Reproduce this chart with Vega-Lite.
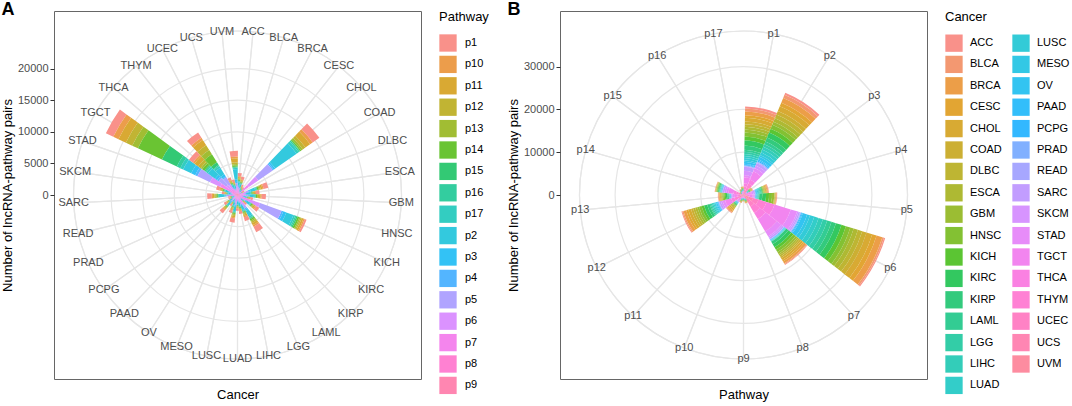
{
"$schema": "https://vega.github.io/schema/vega-lite/v6.json",
"background": "white",
"padding": {"left": 0, "right": 0, "top": 0, "bottom": 0},
"spacing": 16,
"resolve": {"scale": {"color": "independent", "theta": "independent", "radius": "independent", "x": "independent", "y": "independent"}, "legend": {"color": "independent"}},
"config": {
  "font": "Liberation Sans",
  "view": {"stroke": "#666666", "strokeWidth": 1},
  "axis": {"labelFont": "Liberation Sans", "titleFont": "Liberation Sans", "labelFontSize": 11, "labelColor": "#4D4D4D", "titleFontSize": 13, "titleFontWeight": "normal", "titleColor": "#000000", "tickColor": "#333333", "tickSize": 4, "labelPadding": 2, "grid": false},
  "legend": {"titleFont": "Liberation Sans", "labelFont": "Liberation Sans", "titleFontSize": 13, "titleFontWeight": "normal", "titleColor": "#000000", "labelFontSize": 11, "labelColor": "#000000", "padding": 0},
  "title": {"font": "Liberation Sans", "fontSize": 18, "fontWeight": "bold", "color": "#000000", "anchor": "start", "frame": "bounds", "offset": -8}
},
"datasets": {
  "dummy": [{"v": 0}],
  "gridA": [{"r": 5000}, {"r": 10000}, {"r": 15000}, {"r": 20000}],
  "gridB": [{"r": 10000}, {"r": 20000}, {"r": 30000}],
  "A": [
    {"cancer":"ACC","p1":525,"p10":140,"p11":175,"p12":140,"p13":105,"p14":140,"p15":70,"p16":70,"p17":105,"p2":525,"p3":140,"p4":105,"p5":280,"p6":210,"p7":420,"p8":175,"p9":175},
    {"cancer":"BLCA","p1":450,"p10":120,"p11":150,"p12":120,"p13":90,"p14":120,"p15":60,"p16":60,"p17":90,"p2":450,"p3":120,"p4":90,"p5":240,"p6":180,"p7":360,"p8":150,"p9":150},
    {"cancer":"BRCA","p1":270,"p10":72,"p11":90,"p12":72,"p13":54,"p14":72,"p15":36,"p16":36,"p17":54,"p2":270,"p3":72,"p4":54,"p5":144,"p6":108,"p7":216,"p8":90,"p9":90},
    {"cancer":"CESC","p1":225,"p10":60,"p11":75,"p12":60,"p13":45,"p14":60,"p15":30,"p16":30,"p17":45,"p2":225,"p3":60,"p4":45,"p5":120,"p6":90,"p7":180,"p8":75,"p9":75},
    {"cancer":"CHOL","p1":1300,"p10":500,"p11":900,"p12":500,"p13":300,"p14":200,"p15":100,"p16":200,"p17":400,"p2":4100,"p3":300,"p4":200,"p5":2800,"p6":1800,"p7":1600,"p8":400,"p9":200},
    {"cancer":"COAD","p1":180,"p10":48,"p11":60,"p12":48,"p13":36,"p14":48,"p15":24,"p16":24,"p17":36,"p2":180,"p3":48,"p4":36,"p5":96,"p6":72,"p7":144,"p8":60,"p9":60},
    {"cancer":"DLBC","p1":750,"p10":200,"p11":250,"p12":200,"p13":150,"p14":200,"p15":100,"p16":100,"p17":150,"p2":750,"p3":200,"p4":150,"p5":400,"p6":300,"p7":600,"p8":250,"p9":250},
    {"cancer":"ESCA","p1":560,"p10":150,"p11":160,"p12":130,"p13":110,"p14":150,"p15":60,"p16":70,"p17":100,"p2":500,"p3":150,"p4":100,"p5":270,"p6":220,"p7":420,"p8":170,"p9":180},
    {"cancer":"GBM","p1":675,"p10":180,"p11":225,"p12":180,"p13":135,"p14":180,"p15":90,"p16":90,"p17":135,"p2":675,"p3":180,"p4":135,"p5":360,"p6":270,"p7":540,"p8":225,"p9":225},
    {"cancer":"HNSC","p1":375,"p10":100,"p11":125,"p12":100,"p13":75,"p14":100,"p15":50,"p16":50,"p17":75,"p2":375,"p3":100,"p4":75,"p5":200,"p6":150,"p7":300,"p8":125,"p9":125},
    {"cancer":"KICH","p1":300,"p10":200,"p11":300,"p12":200,"p13":200,"p14":300,"p15":200,"p16":200,"p17":300,"p2":1200,"p3":500,"p4":300,"p5":3600,"p6":1800,"p7":1400,"p8":400,"p9":200},
    {"cancer":"KIRC","p1":600,"p10":160,"p11":200,"p12":160,"p13":120,"p14":160,"p15":80,"p16":80,"p17":120,"p2":600,"p3":160,"p4":120,"p5":320,"p6":240,"p7":480,"p8":200,"p9":200},
    {"cancer":"KIRP","p1":300,"p10":80,"p11":100,"p12":80,"p13":60,"p14":80,"p15":40,"p16":40,"p17":60,"p2":300,"p3":80,"p4":60,"p5":160,"p6":120,"p7":240,"p8":100,"p9":100},
    {"cancer":"LAML","p1":990,"p10":264,"p11":330,"p12":264,"p13":198,"p14":264,"p15":132,"p16":132,"p17":198,"p2":990,"p3":264,"p4":198,"p5":528,"p6":396,"p7":792,"p8":330,"p9":330},
    {"cancer":"LGG","p1":645,"p10":172,"p11":215,"p12":172,"p13":129,"p14":172,"p15":86,"p16":86,"p17":129,"p2":645,"p3":172,"p4":129,"p5":344,"p6":258,"p7":516,"p8":215,"p9":215},
    {"cancer":"LIHC","p1":420,"p10":130,"p11":140,"p12":110,"p13":100,"p14":130,"p15":70,"p16":50,"p17":90,"p2":470,"p3":110,"p4":100,"p5":230,"p6":190,"p7":370,"p8":140,"p9":150},
    {"cancer":"LUAD","p1":375,"p10":100,"p11":125,"p12":100,"p13":75,"p14":100,"p15":50,"p16":50,"p17":75,"p2":375,"p3":100,"p4":75,"p5":200,"p6":150,"p7":300,"p8":125,"p9":125},
    {"cancer":"LUSC","p1":660,"p10":176,"p11":220,"p12":176,"p13":132,"p14":176,"p15":88,"p16":88,"p17":132,"p2":660,"p3":176,"p4":132,"p5":352,"p6":264,"p7":528,"p8":220,"p9":220},
    {"cancer":"MESO","p1":450,"p10":120,"p11":150,"p12":120,"p13":90,"p14":120,"p15":60,"p16":60,"p17":90,"p2":450,"p3":120,"p4":90,"p5":240,"p6":180,"p7":360,"p8":150,"p9":150},
    {"cancer":"OV","p1":300,"p10":80,"p11":100,"p12":80,"p13":60,"p14":80,"p15":40,"p16":40,"p17":60,"p2":300,"p3":80,"p4":60,"p5":160,"p6":120,"p7":240,"p8":100,"p9":100},
    {"cancer":"PAAD","p1":555,"p10":148,"p11":185,"p12":148,"p13":111,"p14":148,"p15":74,"p16":74,"p17":111,"p2":555,"p3":148,"p4":111,"p5":296,"p6":222,"p7":444,"p8":185,"p9":185},
    {"cancer":"PCPG","p1":375,"p10":100,"p11":125,"p12":100,"p13":75,"p14":100,"p15":50,"p16":50,"p17":75,"p2":375,"p3":100,"p4":75,"p5":200,"p6":150,"p7":300,"p8":125,"p9":125},
    {"cancer":"PRAD","p1":225,"p10":60,"p11":75,"p12":60,"p13":45,"p14":60,"p15":30,"p16":30,"p17":45,"p2":225,"p3":60,"p4":45,"p5":120,"p6":90,"p7":180,"p8":75,"p9":75},
    {"cancer":"READ","p1":225,"p10":60,"p11":75,"p12":60,"p13":45,"p14":60,"p15":30,"p16":30,"p17":45,"p2":225,"p3":60,"p4":45,"p5":120,"p6":90,"p7":180,"p8":75,"p9":75},
    {"cancer":"SARC","p1":720,"p10":192,"p11":240,"p12":192,"p13":144,"p14":192,"p15":96,"p16":96,"p17":144,"p2":720,"p3":192,"p4":144,"p5":384,"p6":288,"p7":576,"p8":240,"p9":240},
    {"cancer":"SKCM","p1":375,"p10":100,"p11":125,"p12":100,"p13":75,"p14":100,"p15":50,"p16":50,"p17":75,"p2":375,"p3":100,"p4":75,"p5":200,"p6":150,"p7":300,"p8":125,"p9":125},
    {"cancer":"STAD","p1":525,"p10":140,"p11":175,"p12":140,"p13":105,"p14":140,"p15":70,"p16":70,"p17":105,"p2":525,"p3":140,"p4":105,"p5":280,"p6":210,"p7":420,"p8":175,"p9":175},
    {"cancer":"TGCT","p1":1300,"p10":900,"p11":1300,"p12":1100,"p13":1000,"p14":4200,"p15":2600,"p16":600,"p17":500,"p2":1400,"p3":700,"p4":400,"p5":2200,"p6":1800,"p7":2000,"p8":600,"p9":400},
    {"cancer":"THCA","p1":800,"p10":300,"p11":700,"p12":500,"p13":300,"p14":400,"p15":200,"p16":200,"p17":300,"p2":1400,"p3":400,"p4":300,"p5":1500,"p6":1000,"p7":800,"p8":200,"p9":200},
    {"cancer":"THYM","p1":1000,"p10":400,"p11":1000,"p12":900,"p13":800,"p14":1500,"p15":500,"p16":200,"p17":300,"p2":1200,"p3":400,"p4":200,"p5":1300,"p6":900,"p7":700,"p8":200,"p9":200},
    {"cancer":"UCEC","p1":450,"p10":120,"p11":150,"p12":120,"p13":90,"p14":120,"p15":60,"p16":60,"p17":90,"p2":450,"p3":120,"p4":90,"p5":240,"p6":180,"p7":360,"p8":150,"p9":150},
    {"cancer":"UCS","p1":375,"p10":100,"p11":125,"p12":100,"p13":75,"p14":100,"p15":50,"p16":50,"p17":75,"p2":375,"p3":100,"p4":75,"p5":200,"p6":150,"p7":300,"p8":125,"p9":125},
    {"cancer":"UVM","p1":900,"p10":300,"p11":600,"p12":300,"p13":200,"p14":200,"p15":100,"p16":100,"p17":200,"p2":1600,"p3":400,"p4":200,"p5":500,"p6":400,"p7":600,"p8":200,"p9":200}
  ],
  "B": [
    {"pw":"p1","ACC":480,"BLCA":720,"BRCA":840,"CESC":630,"CHOL":840,"COAD":630,"DLBC":630,"ESCA":630,"GBM":705,"HNSC":940,"KICH":940,"KIRC":1175,"KIRP":940,"LAML":495,"LGG":495,"LIHC":495,"LUAD":495,"LUSC":495,"MESO":330,"OV":495,"PAAD":210,"PCPG":210,"PRAD":140,"READ":140,"SARC":950,"SKCM":950,"STAD":564,"TGCT":1410,"THCA":705,"THYM":705,"UCEC":470,"UCS":376,"UVM":470},
    {"pw":"p2","ACC":520,"BLCA":780,"BRCA":1200,"CESC":900,"CHOL":1200,"COAD":900,"DLBC":900,"ESCA":900,"GBM":750,"HNSC":1000,"KICH":1000,"KIRC":1250,"KIRP":1000,"LAML":675,"LGG":675,"LIHC":675,"LUAD":675,"LUSC":675,"MESO":450,"OV":675,"PAAD":270,"PCPG":270,"PRAD":180,"READ":180,"SARC":650,"SKCM":650,"STAD":816,"TGCT":2040,"THCA":1020,"THYM":1020,"UCEC":680,"UCS":544,"UVM":680},
    {"pw":"p3","ACC":60,"BLCA":90,"BRCA":90,"CESC":68,"CHOL":90,"COAD":68,"DLBC":68,"ESCA":68,"GBM":60,"HNSC":80,"KICH":80,"KIRC":100,"KIRP":80,"LAML":68,"LGG":68,"LIHC":68,"LUAD":68,"LUSC":68,"MESO":45,"OV":68,"PAAD":30,"PCPG":30,"PRAD":20,"READ":20,"SARC":75,"SKCM":75,"STAD":96,"TGCT":240,"THCA":120,"THYM":120,"UCEC":80,"UCS":64,"UVM":80},
    {"pw":"p4","ACC":120,"BLCA":180,"BRCA":180,"CESC":135,"CHOL":180,"COAD":135,"DLBC":135,"ESCA":135,"GBM":90,"HNSC":120,"KICH":120,"KIRC":150,"KIRP":120,"LAML":180,"LGG":180,"LIHC":180,"LUAD":180,"LUSC":180,"MESO":120,"OV":180,"PAAD":90,"PCPG":90,"PRAD":60,"READ":60,"SARC":350,"SKCM":350,"STAD":240,"TGCT":600,"THCA":300,"THYM":300,"UCEC":200,"UCS":160,"UVM":200},
    {"pw":"p5","ACC":80,"BLCA":120,"BRCA":100,"CESC":75,"CHOL":100,"COAD":75,"DLBC":75,"ESCA":75,"GBM":525,"HNSC":700,"KICH":700,"KIRC":875,"KIRP":700,"LAML":120,"LGG":120,"LIHC":120,"LUAD":120,"LUSC":120,"MESO":80,"OV":120,"PAAD":60,"PCPG":60,"PRAD":40,"READ":40,"SARC":150,"SKCM":150,"STAD":288,"TGCT":720,"THCA":360,"THYM":360,"UCEC":240,"UCS":192,"UVM":240},
    {"pw":"p6","ACC":280,"BLCA":420,"BRCA":1400,"CESC":1050,"CHOL":1400,"COAD":1050,"DLBC":1050,"ESCA":1050,"GBM":810,"HNSC":1080,"KICH":1080,"KIRC":1350,"KIRP":1080,"LAML":1050,"LGG":1050,"LIHC":1050,"LUAD":1050,"LUSC":1050,"MESO":700,"OV":1050,"PAAD":210,"PCPG":210,"PRAD":140,"READ":140,"SARC":350,"SKCM":350,"STAD":1572,"TGCT":3930,"THCA":1965,"THYM":1965,"UCEC":1310,"UCS":1048,"UVM":1310},
    {"pw":"p7","ACC":160,"BLCA":240,"BRCA":520,"CESC":390,"CHOL":520,"COAD":390,"DLBC":390,"ESCA":390,"GBM":495,"HNSC":660,"KICH":660,"KIRC":825,"KIRP":660,"LAML":60,"LGG":60,"LIHC":60,"LUAD":60,"LUSC":60,"MESO":40,"OV":60,"PAAD":90,"PCPG":90,"PRAD":60,"READ":60,"SARC":350,"SKCM":350,"STAD":1356,"TGCT":3390,"THCA":1695,"THYM":1695,"UCEC":1130,"UCS":904,"UVM":1130},
    {"pw":"p8","ACC":40,"BLCA":60,"BRCA":60,"CESC":45,"CHOL":60,"COAD":45,"DLBC":45,"ESCA":45,"GBM":45,"HNSC":60,"KICH":60,"KIRC":75,"KIRP":60,"LAML":45,"LGG":45,"LIHC":45,"LUAD":45,"LUSC":45,"MESO":30,"OV":45,"PAAD":30,"PCPG":30,"PRAD":20,"READ":20,"SARC":50,"SKCM":50,"STAD":96,"TGCT":240,"THCA":120,"THYM":120,"UCEC":80,"UCS":64,"UVM":80},
    {"pw":"p9","ACC":40,"BLCA":60,"BRCA":40,"CESC":30,"CHOL":40,"COAD":30,"DLBC":30,"ESCA":30,"GBM":30,"HNSC":40,"KICH":40,"KIRC":50,"KIRP":40,"LAML":30,"LGG":30,"LIHC":30,"LUAD":30,"LUSC":30,"MESO":20,"OV":30,"PAAD":30,"PCPG":30,"PRAD":20,"READ":20,"SARC":50,"SKCM":50,"STAD":72,"TGCT":180,"THCA":90,"THYM":90,"UCEC":60,"UCS":48,"UVM":60},
    {"pw":"p10","ACC":40,"BLCA":60,"BRCA":60,"CESC":45,"CHOL":60,"COAD":45,"DLBC":45,"ESCA":45,"GBM":45,"HNSC":60,"KICH":60,"KIRC":75,"KIRP":60,"LAML":45,"LGG":45,"LIHC":45,"LUAD":45,"LUSC":45,"MESO":30,"OV":45,"PAAD":30,"PCPG":30,"PRAD":20,"READ":20,"SARC":50,"SKCM":50,"STAD":84,"TGCT":210,"THCA":105,"THYM":105,"UCEC":70,"UCS":56,"UVM":70},
    {"pw":"p11","ACC":120,"BLCA":180,"BRCA":320,"CESC":240,"CHOL":320,"COAD":240,"DLBC":240,"ESCA":240,"GBM":90,"HNSC":120,"KICH":120,"KIRC":150,"KIRP":120,"LAML":60,"LGG":60,"LIHC":60,"LUAD":60,"LUSC":60,"MESO":40,"OV":60,"PAAD":60,"PCPG":60,"PRAD":40,"READ":40,"SARC":150,"SKCM":150,"STAD":204,"TGCT":510,"THCA":255,"THYM":255,"UCEC":170,"UCS":136,"UVM":170},
    {"pw":"p12","ACC":200,"BLCA":300,"BRCA":660,"CESC":495,"CHOL":660,"COAD":495,"DLBC":495,"ESCA":495,"GBM":450,"HNSC":600,"KICH":600,"KIRC":750,"KIRP":600,"LAML":270,"LGG":270,"LIHC":270,"LUAD":270,"LUSC":270,"MESO":180,"OV":270,"PAAD":150,"PCPG":150,"PRAD":100,"READ":100,"SARC":400,"SKCM":400,"STAD":612,"TGCT":1530,"THCA":765,"THYM":765,"UCEC":510,"UCS":408,"UVM":510},
    {"pw":"p13","ACC":80,"BLCA":120,"BRCA":180,"CESC":135,"CHOL":180,"COAD":135,"DLBC":135,"ESCA":135,"GBM":210,"HNSC":280,"KICH":280,"KIRC":350,"KIRP":280,"LAML":75,"LGG":75,"LIHC":75,"LUAD":75,"LUSC":75,"MESO":50,"OV":75,"PAAD":60,"PCPG":60,"PRAD":40,"READ":40,"SARC":150,"SKCM":150,"STAD":300,"TGCT":750,"THCA":375,"THYM":375,"UCEC":250,"UCS":200,"UVM":250},
    {"pw":"p14","ACC":40,"BLCA":60,"BRCA":60,"CESC":45,"CHOL":60,"COAD":45,"DLBC":45,"ESCA":45,"GBM":105,"HNSC":140,"KICH":140,"KIRC":175,"KIRP":140,"LAML":75,"LGG":75,"LIHC":75,"LUAD":75,"LUSC":75,"MESO":50,"OV":75,"PAAD":90,"PCPG":90,"PRAD":60,"READ":60,"SARC":400,"SKCM":400,"STAD":492,"TGCT":1230,"THCA":615,"THYM":615,"UCEC":410,"UCS":328,"UVM":410},
    {"pw":"p15","ACC":20,"BLCA":30,"BRCA":30,"CESC":23,"CHOL":30,"COAD":23,"DLBC":23,"ESCA":23,"GBM":23,"HNSC":30,"KICH":30,"KIRC":38,"KIRP":30,"LAML":23,"LGG":23,"LIHC":23,"LUAD":23,"LUSC":23,"MESO":15,"OV":23,"PAAD":15,"PCPG":15,"PRAD":10,"READ":10,"SARC":25,"SKCM":25,"STAD":48,"TGCT":120,"THCA":60,"THYM":60,"UCEC":40,"UCS":32,"UVM":40},
    {"pw":"p16","ACC":40,"BLCA":60,"BRCA":40,"CESC":30,"CHOL":40,"COAD":30,"DLBC":30,"ESCA":30,"GBM":30,"HNSC":40,"KICH":40,"KIRC":50,"KIRP":40,"LAML":30,"LGG":30,"LIHC":30,"LUAD":30,"LUSC":30,"MESO":20,"OV":30,"PAAD":30,"PCPG":30,"PRAD":20,"READ":20,"SARC":50,"SKCM":50,"STAD":72,"TGCT":180,"THCA":90,"THYM":90,"UCEC":60,"UCS":48,"UVM":60},
    {"pw":"p17","ACC":40,"BLCA":60,"BRCA":60,"CESC":45,"CHOL":60,"COAD":45,"DLBC":45,"ESCA":45,"GBM":45,"HNSC":60,"KICH":60,"KIRC":75,"KIRP":60,"LAML":45,"LGG":45,"LIHC":45,"LUAD":45,"LUSC":45,"MESO":30,"OV":45,"PAAD":30,"PCPG":30,"PRAD":20,"READ":20,"SARC":50,"SKCM":50,"STAD":96,"TGCT":240,"THCA":120,"THYM":120,"UCEC":80,"UCS":64,"UVM":80}
  ]
},
"hconcat": [
  {
    "width": 367, "height": 368,
    "title": {"text": "A"},
    "layer": [
      {"data": {"name": "gridA"},
       "mark": {"type": "arc", "filled": false, "stroke": "#E6E6E6", "strokeWidth": 1.2, "theta": 0, "theta2": 6.2832},
       "encoding": {"radius": {"field": "r", "type": "quantitative", "stack": null, "scale": {"type": "linear", "domain": [0, 20000], "range": [0, 126.4], "nice": false, "zero": true}}}},
      {"data": {"name": "dummy"},
       "mark": {"type": "arc", "filled": false, "stroke": "#E6E6E6", "strokeWidth": 1.2, "theta": 0, "theta2": 6.2832, "radius": 164},
       "encoding": {}},
      {"data": {"name": "A"},
       "mark": {"type": "arc", "filled": false, "stroke": "#E6E6E6", "strokeWidth": 1.2, "radius": 164, "thetaOffset": 0.0952, "theta2Offset": -0.0952},
       "encoding": {"theta": {"field": "cancer", "type": "nominal", "scale": {"type": "band", "paddingInner": 0, "paddingOuter": 0}}}},
      {"data": {"name": "A"},
       "transform": [
         {"fold": ["p1","p10","p11","p12","p13","p14","p15","p16","p17","p2","p3","p4","p5","p6","p7","p8","p9"], "as": ["pw", "n"]},
         {"stack": "n", "groupby": ["cancer"], "sort": [{"field": "pw", "order": "descending"}], "as": ["r0", "r1"]}
       ],
       "mark": {"type": "arc", "thetaOffset": 0.00952, "theta2Offset": -0.00952},
       "encoding": {
         "theta": {"field": "cancer", "type": "nominal", "scale": {"type": "band", "paddingInner": 0, "paddingOuter": 0}},
         "radius": {"field": "r1", "type": "quantitative", "stack": null, "scale": {"type": "linear", "domain": [0, 20000], "range": [0, 126.4], "nice": false, "zero": true}},
         "radius2": {"field": "r0"},
         "color": {"field": "pw", "type": "nominal", "title": "Pathway",
           "scale": {"domain": ["p1","p10","p11","p12","p13","p14","p15","p16","p17","p2","p3","p4","p5","p6","p7","p8","p9"],
                     "range": ["#F9918A","#EC9D4B","#D9A933","#C1B433","#A1BD33","#6AC433","#33C974","#33CD9F","#33CDC1","#33C9DE","#33C2F5","#53B5FF","#B0A4FF","#DB92FF","#F485ED","#FF81D2","#FF86B1"]},
           "legend": {"symbolType": "square", "symbolSize": 300, "symbolStrokeWidth": 0, "symbolOpacity": 1, "rowPadding": 3.4, "labelOffset": 8, "titlePadding": 10, "offset": 18}}
       }},
      {"data": {"name": "A"},
       "mark": {"type": "text", "radius": 164, "fontSize": 11, "color": "#4D4D4D", "align": "center", "baseline": "middle"},
       "encoding": {"theta": {"field": "cancer", "type": "nominal", "scale": {"type": "band", "paddingInner": 0, "paddingOuter": 0}}, "text": {"field": "cancer"}}},
      {"data": {"name": "dummy"},
       "mark": {"type": "point", "opacity": 0},
       "encoding": {
         "x": {"field": "v", "type": "quantitative", "scale": {"domain": [-1, 1]}, "axis": {"title": "Cancer", "labels": false, "ticks": false, "domain": false, "grid": false, "titlePadding": 9}},
         "y": {"field": "v", "type": "quantitative", "scale": {"domain": [-29114, 29114], "nice": false, "zero": false}, "axis": {"title": "Number of lncRNA-pathway pairs", "values": [0, 5000, 10000, 15000, 20000], "format": "d", "domain": false, "grid": false, "titlePadding": 3}}
       }}
    ]
  },
  {
    "width": 367, "height": 368,
    "title": {"text": "B"},
    "layer": [
      {"data": {"name": "gridB"},
       "mark": {"type": "arc", "filled": false, "stroke": "#E6E6E6", "strokeWidth": 1.2, "theta": 0, "theta2": 6.2832},
       "encoding": {"radius": {"field": "r", "type": "quantitative", "stack": null, "scale": {"type": "linear", "domain": [0, 30000], "range": [0, 128.4], "nice": false, "zero": true}}}},
      {"data": {"name": "dummy"},
       "mark": {"type": "arc", "filled": false, "stroke": "#E6E6E6", "strokeWidth": 1.2, "theta": 0, "theta2": 6.2832, "radius": 164},
       "encoding": {}},
      {"data": {"name": "B"},
       "mark": {"type": "arc", "filled": false, "stroke": "#E6E6E6", "strokeWidth": 1.2, "radius": 164, "thetaOffset": 0.1848, "theta2Offset": -0.1848},
       "encoding": {"theta": {"field": "pw", "type": "nominal", "sort": ["p1","p2","p3","p4","p5","p6","p7","p8","p9","p10","p11","p12","p13","p14","p15","p16","p17"], "scale": {"type": "band", "paddingInner": 0, "paddingOuter": 0}}}},
      {"data": {"name": "B"},
       "transform": [
         {"fold": ["ACC","BLCA","BRCA","CESC","CHOL","COAD","DLBC","ESCA","GBM","HNSC","KICH","KIRC","KIRP","LAML","LGG","LIHC","LUAD","LUSC","MESO","OV","PAAD","PCPG","PRAD","READ","SARC","SKCM","STAD","TGCT","THCA","THYM","UCEC","UCS","UVM"], "as": ["cancer", "n"]},
         {"stack": "n", "groupby": ["pw"], "sort": [{"field": "cancer", "order": "descending"}], "as": ["r0", "r1"]}
       ],
       "mark": {"type": "arc", "thetaOffset": 0.01848, "theta2Offset": -0.01848},
       "encoding": {
         "theta": {"field": "pw", "type": "nominal", "sort": ["p1","p2","p3","p4","p5","p6","p7","p8","p9","p10","p11","p12","p13","p14","p15","p16","p17"], "scale": {"type": "band", "paddingInner": 0, "paddingOuter": 0}},
         "radius": {"field": "r1", "type": "quantitative", "stack": null, "scale": {"type": "linear", "domain": [0, 30000], "range": [0, 128.4], "nice": false, "zero": true}},
         "radius2": {"field": "r0"},
         "color": {"field": "cancer", "type": "nominal", "title": "Cancer",
           "scale": {"domain": ["ACC","BLCA","BRCA","CESC","CHOL","COAD","DLBC","ESCA","GBM","HNSC","KICH","KIRC","KIRP","LAML","LGG","LIHC","LUAD","LUSC","MESO","OV","PAAD","PCPG","PRAD","READ","SARC","SKCM","STAD","TGCT","THCA","THYM","UCEC","UCS","UVM"],
                     "range": ["#F9918A","#F39871","#EC9E48","#E2A533","#D8AA33","#CCAF33","#BEB533","#AEB933","#9BBD33","#83C133","#5BC533","#33C860","#33CA7D","#33CC93","#33CDA7","#33CDB9","#33CDC9","#33CBD7","#33C8E5","#33C4F1","#33BEFA","#33B8FF","#81B0FF","#A7A7FF","#C29DFF","#D794FF","#E78CF9","#F285EF","#FA81E2","#FF81D4","#FF82C5","#FF86B3","#FD8CA0"]},
           "legend": {"columns": 2, "columnPadding": 10, "symbolType": "square", "symbolSize": 300, "symbolStrokeWidth": 0, "symbolOpacity": 1, "rowPadding": 3.4, "labelOffset": 7, "titlePadding": 10, "offset": 18, "symbolLimit": 40}}
       }},
      {"data": {"name": "B"},
       "mark": {"type": "text", "radius": 164, "fontSize": 11, "color": "#4D4D4D", "align": "center", "baseline": "middle"},
       "encoding": {"theta": {"field": "pw", "type": "nominal", "sort": ["p1","p2","p3","p4","p5","p6","p7","p8","p9","p10","p11","p12","p13","p14","p15","p16","p17"], "scale": {"type": "band", "paddingInner": 0, "paddingOuter": 0}}, "text": {"field": "pw"}}},
      {"data": {"name": "dummy"},
       "mark": {"type": "point", "opacity": 0},
       "encoding": {
         "x": {"field": "v", "type": "quantitative", "scale": {"domain": [-1, 1]}, "axis": {"title": "Pathway", "labels": false, "ticks": false, "domain": false, "grid": false, "titlePadding": 9}},
         "y": {"field": "v", "type": "quantitative", "scale": {"domain": [-42991, 42991], "nice": false, "zero": false}, "axis": {"title": "Number of lncRNA-pathway pairs", "values": [0, 10000, 20000, 30000], "format": "d", "domain": false, "grid": false, "titlePadding": 3}}
       }}
    ]
  }
]
}
